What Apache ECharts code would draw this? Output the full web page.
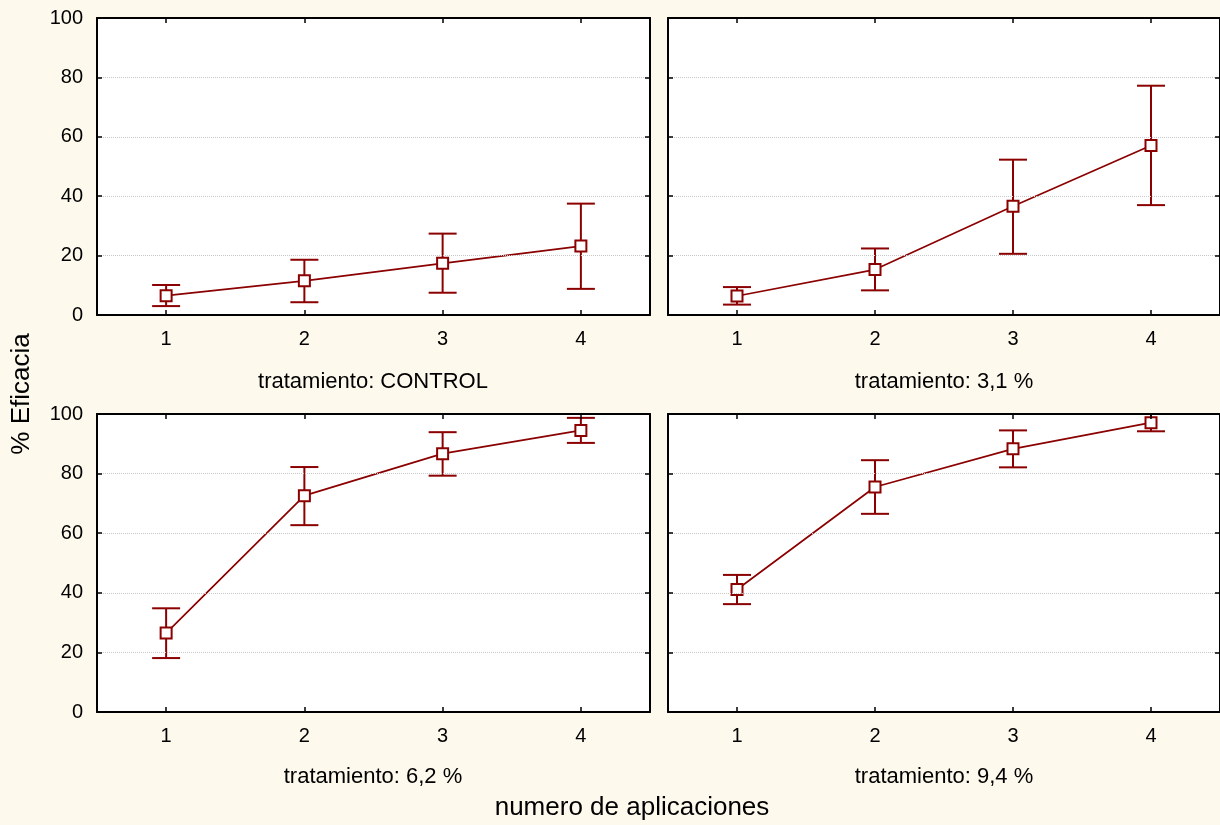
<!DOCTYPE html>
<html>
<head>
<meta charset="utf-8">
<script src="https://cdn.jsdelivr.net/npm/echarts@6/dist/echarts.min.js"></script>
<style>
  html, body { margin: 0; padding: 0; background: #fef9ed; }
  #main { width: 1220px; height: 825px; }
</style>
</head>
<body>
<div id="main"></div>
<script>
var aplicaciones = ['1', '2', '3', '4'];
var tratamientos = ['tratamiento: CONTROL', 'tratamiento: 3,1 %', 'tratamiento: 6,2 %', 'tratamiento: 9,4 %'];

// medias y limites de los intervalos
var mediaControl = [6.5, 11.5, 17.4, 23.2];
var supControl = [10.1, 18.6, 27.4, 37.5];
var infControl = [3.0, 4.3, 7.5, 8.8];

var media31 = [6.4, 15.3, 36.6, 57.1];
var sup31 = [9.4, 22.4, 52.3, 77.2];
var inf31 = [3.5, 8.3, 20.6, 37.0];

var media62 = [26.5, 72.6, 86.7, 94.5];
var sup62 = [34.8, 82.2, 93.9, 98.7];
var inf62 = [18.1, 62.7, 79.3, 90.3];

var media94 = [41.1, 75.5, 88.3, 97.1];
var sup94 = [46.0, 84.5, 94.5, 100.0];
var inf94 = [36.2, 66.5, 82.1, 94.2];

var medias = [mediaControl, media31, media62, media94];
var superiores = [supControl, sup31, sup62, sup94];
var inferiores = [infControl, inf31, inf62, inf94];

var FONT = '"Liberation Sans", Arial, sans-serif';
var ROJO = '#8b0000';

var grids = [
  { left: 97, top: 18, width: 553, height: 297 },
  { left: 668, top: 18, width: 552, height: 297 },
  { left: 97, top: 414, width: 553, height: 298 },
  { left: 668, top: 414, width: 552, height: 298 }
];

var xAxes = [], yAxes = [], series = [];

function tickStyle() {
  return { show: true, inside: true, length: 5, alignWithLabel: true, lineStyle: { color: '#000', width: 1.5 } };
}
function frameLine() {
  return { show: true, onZero: false, lineStyle: { color: '#000', width: 2 } };
}

grids.forEach(function (g, i) {
  g.show = true;
  g.backgroundColor = '#fff';
  g.borderWidth = 0;

  xAxes.push({
    gridIndex: i, type: 'category', data: aplicaciones, position: 'bottom',
    axisLine: frameLine(), axisTick: tickStyle(),
    axisLabel: { fontSize: 20, color: '#000', margin: 14, fontFamily: FONT },
    splitLine: { show: false }, z: 10
  });
  xAxes.push({
    gridIndex: i, type: 'category', data: aplicaciones, position: 'top',
    axisLine: frameLine(), axisTick: tickStyle(),
    axisLabel: { show: false }, splitLine: { show: false }, z: 10
  });
  yAxes.push({
    gridIndex: i, type: 'value', min: 0, max: 100, interval: 20, position: 'left',
    axisLine: frameLine(), axisTick: tickStyle(),
    axisLabel: { show: i % 2 === 0, fontSize: 20, color: '#000', margin: 14, fontFamily: FONT },
    splitLine: { show: true, lineStyle: { color: '#c8c8c8', width: 1, type: 'dotted' } }, z: 10
  });
  yAxes.push({
    gridIndex: i, type: 'value', min: 0, max: 100, interval: 20, position: 'right',
    axisLine: frameLine(), axisTick: tickStyle(),
    axisLabel: { show: false }, splitLine: { show: false }, z: 10
  });

  var barras = aplicaciones.map(function (a, k) {
    return [k, inferiores[i][k], superiores[i][k]];
  });

  series.push({
    type: 'custom',
    xAxisIndex: 2 * i, yAxisIndex: 2 * i,
    clip: true,
    data: barras,
    renderItem: function (params, api) {
      var x = api.value(0);
      var lo = api.coord([x, api.value(1)]);
      var hi = api.coord([x, api.value(2)]);
      var w = 14;
      var st = { stroke: ROJO, lineWidth: 2 };
      return {
        type: 'group',
        children: [
          { type: 'line', shape: { x1: lo[0], y1: lo[1], x2: hi[0], y2: hi[1] }, style: st },
          { type: 'line', shape: { x1: lo[0] - w, y1: lo[1], x2: lo[0] + w, y2: lo[1] }, style: st },
          { type: 'line', shape: { x1: hi[0] - w, y1: hi[1], x2: hi[0] + w, y2: hi[1] }, style: st }
        ]
      };
    }
  });

  series.push({
    type: 'line',
    xAxisIndex: 2 * i, yAxisIndex: 2 * i,
    data: medias[i],
    symbol: 'rect', symbolSize: 11, showAllSymbol: true,
    itemStyle: { color: '#fff', borderColor: ROJO, borderWidth: 2 },
    lineStyle: { color: ROJO, width: 1.7 },
    z: 5
  });
});

function texto(t, x, y, size, rot) {
  return {
    type: 'text', x: x, y: y, rotation: rot || 0, z: 20,
    style: { text: t, font: size + 'px ' + FONT, fill: '#000', align: 'center', verticalAlign: 'middle' }
  };
}

var chart = echarts.init(document.getElementById('main'));
chart.setOption({
  backgroundColor: '#fef9ed',
  animation: false,
  grid: grids,
  xAxis: xAxes,
  yAxis: yAxes,
  series: series,
  graphic: [
    texto(tratamientos[0], 373, 382, 22),
    texto(tratamientos[1], 944, 382, 22),
    texto(tratamientos[2], 373, 777, 22),
    texto(tratamientos[3], 944, 777, 22),
    texto('numero de aplicaciones', 632, 808, 26),
    texto('% Eficacia', 22, 394, 26, Math.PI / 2)
  ]
});
</script>
</body>
</html>
